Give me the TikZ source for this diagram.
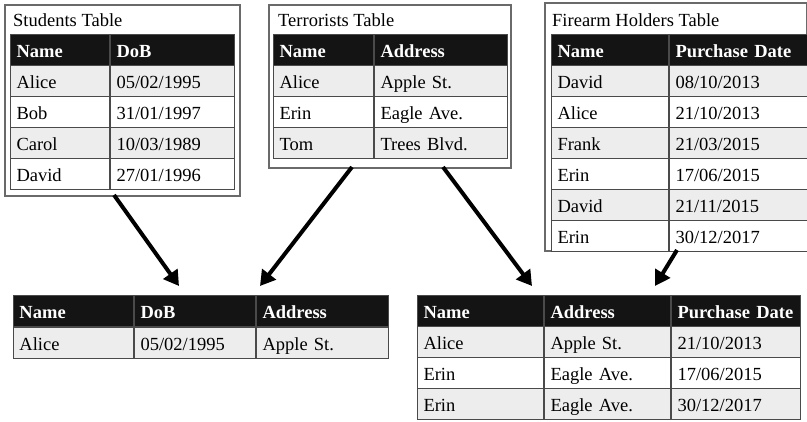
\documentclass[tikz,border=0pt]{standalone}
\usepackage{fontspec}
\setmainfont{Liberation Serif}
\usetikzlibrary{positioning, arrows.meta}
\definecolor{headblack}{HTML}{141414}
\definecolor{rowgray}{HTML}{EDEDED}
\definecolor{gridgray}{HTML}{4A4A4A}
\definecolor{framegray}{HTML}{6A6A6A}
\tikzset{cell/.style={draw=gridgray, line width=1pt, anchor=north west, inner xsep=6pt, inner ysep=7pt,
                      text height=16pt, text depth=1pt, align=left, font=\fontsize{18.5}{22}\selectfont},
         head/.style={cell, fill=headblack, text=white, font=\fontsize{18.5}{22}\selectfont\bfseries},
         r1/.style={fill=rowgray},
         r0/.style={fill=white},
         frame/.style={draw=framegray, line width=1.5pt, anchor=north west, inner sep=0pt},
         title/.style={anchor=base west, inner sep=0pt, font=\fontsize{18.5}{22}\selectfont},
         joinarrow/.style={line width=4pt, -{Triangle[length=15pt,width=17pt]}},
        }

\begin{document}
\begin{tikzpicture}[x=1pt,y=-1pt]
        \useasboundingbox (0,0) rectangle (807,421);

        % students
        \node[frame, minimum width=235pt, minimum height=191pt](students)at(4,4){};
        \node[title](st-t)at(13,26){Students Table};
        \node[head, text width=87pt](st-h1)at(10,34){Name};
        \node[head, text width=112pt, right=0pt of st-h1](st-h2){DoB};
        \foreach \n/\d [count=\i] in {Alice/{05/02/1995}, Bob/{31/01/1997}, Carol/{10/03/1989}, David/{27/01/1996}}{
            \pgfmathtruncatemacro\p{mod(\i,2)}
            \node[cell, r\p, text width=87pt](st-\i1)at(10,34+31*\i){\n};
            \node[cell, r\p, text width=112pt, right=0pt of st-\i1](st-\i2){\d};
        }

        % terrorists
        \node[frame, minimum width=242pt, minimum height=163pt](terrorists)at(268,4){};
        \node[title](te-t)at(278,26){Terrorists Table};
        \node[head, text width=88pt](te-h1)at(273,34){Name};
        \node[head, text width=121pt, right=0pt of te-h1](te-h2){Address};
        \foreach \n/\d [count=\i] in {Alice/{Apple St.}, Erin/{Eagle Ave.}, Tom/{Trees Blvd.}}{
            \pgfmathtruncatemacro\p{mod(\i,2)}
            \node[cell, r\p, text width=88pt](te-\i1)at(273,34+31*\i){\n};
            \node[cell, r\p, text width=121pt, right=0pt of te-\i1](te-\i2){\d};
        }

        % firearm holders
        \node[frame, minimum width=262pt, minimum height=248pt](holders)at(544,2){};
        \node[title](fh-t)at(552,26){Firearm Holders Table};
        \node[head, text width=105pt](fh-h1)at(551,34){Name};
        \node[head, text width=126pt, right=0pt of fh-h1](fh-h2){Purchase~Date};
        \foreach \n/\d [count=\i] in {David/{08/10/2013}, Alice/{21/10/2013}, Frank/{21/03/2015}, Erin/{17/06/2015}, David/{21/11/2015}, Erin/{30/12/2017}}{
            \pgfmathtruncatemacro\p{mod(\i,2)}
            \node[cell, r\p, text width=105pt](fh-\i1)at(551,34+31*\i){\n};
            \node[cell, r\p, text width=126pt, right=0pt of fh-\i1](fh-\i2){\d};
        }

        % students join terrorists
        \node[head, text width=108pt](ja-h1)at(13,295){Name};
        \node[head, text width=109pt, right=0pt of ja-h1](ja-h2){DoB};
        \node[head, text width=120pt, right=0pt of ja-h2](ja-h3){Address};
        \node[cell, r1, text width=108pt, below=0pt of ja-h1](ja-11){Alice};
        \node[cell, r1, text width=109pt, right=0pt of ja-11](ja-12){05/02/1995};
        \node[cell, r1, text width=120pt, right=0pt of ja-12](ja-13){Apple St.};

        % terrorists join holders
        \node[head, text width=114pt](jb-h1)at(417,295){Name};
        \node[head, text width=114pt, right=0pt of jb-h1](jb-h2){Address};
        \node[head, text width=117pt, right=0pt of jb-h2](jb-h3){Purchase~Date};
        \foreach \n/\a/\d [count=\i] in {Alice/{Apple St.}/{21/10/2013}, Erin/{Eagle Ave.}/{17/06/2015}, Erin/{Eagle Ave.}/{30/12/2017}}{
            \pgfmathtruncatemacro\p{mod(\i,2)}
            \node[cell, r\p, text width=114pt](jb-\i1)at(417,295+31*\i){\n};
            \node[cell, r\p, text width=114pt, right=0pt of jb-\i1](jb-\i2){\a};
            \node[cell, r\p, text width=117pt, right=0pt of jb-\i2](jb-\i3){\d};
        }

        \coordinate(st-out)at(114,195);
        \coordinate(te-out1)at(352,167);
        \coordinate(te-out2)at(443,167);
        \coordinate(fh-out)at(677,250);
        \coordinate(ja-in1)at(179,286);
        \coordinate(ja-in2)at(260,286);
        \coordinate(jb-in1)at(532,286);
        \coordinate(jb-in2)at(655,286);

        \draw[joinarrow](st-out)--(ja-in1);
        \draw[joinarrow](te-out1)--(ja-in2);
        \draw[joinarrow](te-out2)--(jb-in1);
        \draw[joinarrow](fh-out)--(jb-in2);
    \end{tikzpicture}
\end{document}
